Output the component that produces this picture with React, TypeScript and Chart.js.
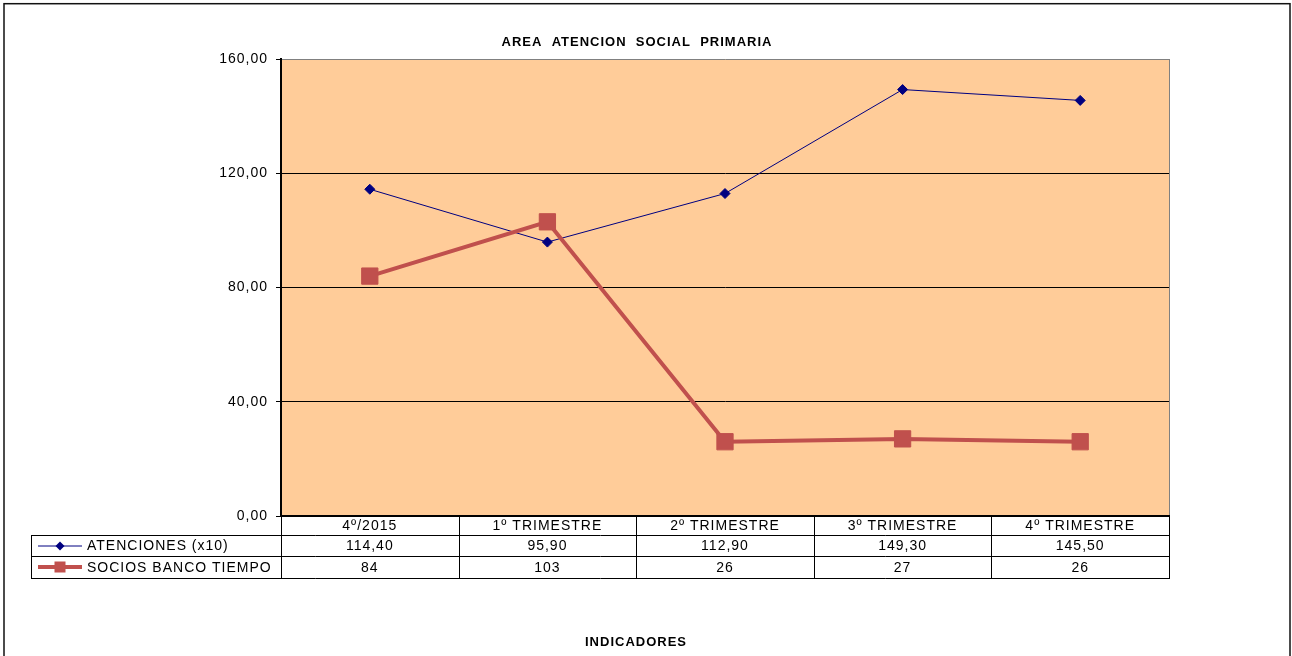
import React, { useEffect, useRef } from "react";
import { Chart, registerables } from "chart.js";

Chart.register(...registerables);

const categories = ["4º/2015", "1º TRIMESTRE", "2º TRIMESTRE", "3º TRIMESTRE", "4º TRIMESTRE"];
const atenciones = [114.4, 95.9, 112.9, 149.3, 145.5];
const socios = [84, 103, 26, 27, 26];
const seriesNames = ["ATENCIONES (x10)", "SOCIOS BANCO TIEMPO"];
const yMin = 0;
const yMax = 160;
const yStep = 40;
const chartTitle = "AREA  ATENCION  SOCIAL  PRIMARIA";
const xTitle = "INDICADORES";

const BLUE = "#000080";
const RED = "#C0504D";
const PLOT_BG = "#FFCC99";
const FONT = "'Liberation Sans', Arial, sans-serif";

const fmt2 = (v: number) => v.toFixed(2).replace(".", ",");
const fmt0 = (v: number) => String(Math.round(v));

const excelPlugin = {
  id: "excelLook",
  beforeUpdate(chart: any) {
    chart.ctx.letterSpacing = "1px";
  },
  beforeDraw(chart: any) {
    const { ctx, chartArea: a } = chart;
    ctx.save();
    ctx.fillStyle = "#ffffff";
    ctx.fillRect(0, 0, chart.width, chart.height);
    ctx.fillStyle = PLOT_BG;
    ctx.fillRect(a.left, a.top, a.right - a.left, a.bottom - a.top);
    ctx.restore();
    ctx.letterSpacing = "1px";
  },
  afterDraw(chart: any) {
    const { ctx, chartArea: a } = chart;
    const xs = chart.scales.x;
    const half = (xs.getPixelForValue(1) - xs.getPixelForValue(0)) / 2;
    ctx.save();

    // plot right border
    ctx.strokeStyle = "#808080";
    ctx.lineWidth = 1;
    ctx.beginPath();
    ctx.moveTo(a.right + 0.5, a.top);
    ctx.lineTo(a.right + 0.5, a.bottom);
    ctx.stroke();

    // data table
    const r0 = a.bottom;
    const r1 = r0 + 19;
    const r2 = r1 + 21;
    const r3 = r2 + 22;
    const tableLeft = 31;

    ctx.strokeStyle = "#000";
    ctx.lineWidth = 2;
    ctx.beginPath();
    ctx.moveTo(a.left - 1, r0);
    ctx.lineTo(a.right + 1, r0);
    ctx.stroke();

    ctx.lineWidth = 1;
    ctx.beginPath();
    for (const y of [r1, r2, r3]) {
      ctx.moveTo(tableLeft, y + 0.5);
      ctx.lineTo(a.right + 1, y + 0.5);
    }
    ctx.moveTo(tableLeft + 0.5, r1);
    ctx.lineTo(tableLeft + 0.5, r3 + 1);
    for (let k = 0; k <= categories.length; k++) {
      const x = Math.round(xs.getPixelForValue(0) - half + k * 2 * half) + 0.5;
      ctx.moveTo(x, r0);
      ctx.lineTo(x, r3 + 1);
    }
    ctx.stroke();

    ctx.fillStyle = "#000";
    ctx.font = `14px ${FONT}`;
    ctx.letterSpacing = "1px";
    ctx.textBaseline = "middle";
    ctx.textAlign = "center";
    categories.forEach((c, i) => {
      const x = xs.getPixelForValue(i);
      ctx.fillText(c, x, (r0 + r1) / 2 + 1);
      ctx.fillText(fmt2(atenciones[i]), x, (r1 + r2) / 2 + 1);
      ctx.fillText(fmt0(socios[i]), x, (r2 + r3) / 2 + 1);
    });

    // legend keys
    const ky1 = (r1 + r2) / 2 + 0.5;
    const ky2 = (r2 + r3) / 2;
    ctx.strokeStyle = BLUE;
    ctx.lineWidth = 1;
    ctx.beginPath();
    ctx.moveTo(38, ky1);
    ctx.lineTo(82, ky1);
    ctx.stroke();
    ctx.fillStyle = BLUE;
    ctx.beginPath();
    ctx.moveTo(60 - 4.5, ky1);
    ctx.lineTo(60, ky1 - 4.5);
    ctx.lineTo(60 + 4.5, ky1);
    ctx.lineTo(60, ky1 + 4.5);
    ctx.closePath();
    ctx.fill();

    ctx.strokeStyle = RED;
    ctx.lineWidth = 4;
    ctx.beginPath();
    ctx.moveTo(38, ky2);
    ctx.lineTo(82, ky2);
    ctx.stroke();
    ctx.fillStyle = RED;
    ctx.fillRect(60 - 5.5, ky2 - 5.5, 11, 11);

    ctx.fillStyle = "#000";
    ctx.textAlign = "left";
    ctx.fillText(seriesNames[0], 87, ky1 + 0.5);
    ctx.fillText(seriesNames[1], 87, ky2 + 1);

    // titles
    ctx.font = `bold 13px ${FONT}`;
    ctx.letterSpacing = "1px";
    ctx.textAlign = "center";
    ctx.fillText(chartTitle, 637, 42);
    ctx.fillText(xTitle, 636, 642);

    // outer border
    ctx.strokeStyle = "#111";
    ctx.lineWidth = 1.5;
    ctx.strokeRect(4, 3.7, 1286, 700);

    ctx.restore();
  },
};

export default function App() {
  const ref = useRef<HTMLCanvasElement | null>(null);
  useEffect(() => {
    if (!ref.current) return;
    const chart = new Chart(ref.current, {
      type: "line",
      data: {
        labels: categories,
        datasets: [
          {
            label: seriesNames[0],
            data: atenciones,
            borderColor: BLUE,
            backgroundColor: BLUE,
            borderWidth: 1,
            pointStyle: "rectRot",
            pointRadius: 5,
            pointBorderWidth: 1,
            tension: 0,
            order: 2,
          },
          {
            label: seriesNames[1],
            data: socios,
            borderColor: RED,
            backgroundColor: RED,
            borderWidth: 4,
            pointStyle: "rect",
            pointRadius: 11.5,
            pointBorderWidth: 1,
            tension: 0,
            order: 1,
          },
        ],
      },
      options: {
        responsive: false,
        animation: false,
        devicePixelRatio: 1,
        layout: { padding: { top: 59, bottom: 140, left: 0, right: 123 } },
        plugins: {
          legend: { display: false },
          tooltip: { enabled: false },
          title: { display: false },
        },
        scales: {
          x: {
            type: "category",
            display: false,
            offset: true,
          },
          y: {
            min: yMin,
            max: yMax,
            ticks: {
              stepSize: yStep,
              color: "#000",
              padding: 8,
              font: { family: FONT, size: 14 },
              callback: (v: any) => fmt2(Number(v)),
            },
            grid: {
              color: (c: any) => (c.tick && c.tick.value === yMax ? "#808080" : "#000"),
              lineWidth: 1,
              drawTicks: true,
              tickLength: 5,
              tickColor: "#000",
            },
            border: { display: true, color: "#000", width: 2 },
            afterFit: (s: any) => {
              s.width = 281;
            },
          },
        },
      },
      plugins: [excelPlugin],
    } as any);
    return () => chart.destroy();
  }, []);
  return (
    <div style={{ position: "fixed", left: 0, top: 0, width: 1292, height: 656, background: "#fff" }}>
      <canvas ref={ref} width={1292} height={656} style={{ display: "block" }} />
    </div>
  );
}
